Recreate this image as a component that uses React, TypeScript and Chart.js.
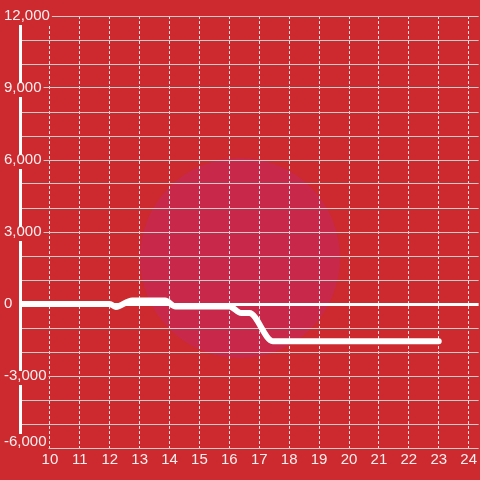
import React, { useEffect, useRef } from "react";
import { Chart, registerables } from "chart.js";

Chart.register(...registerables);

// Data (x = hour, y = value)
const hours = [9, 12, 12.2, 12.75, 13.85, 14.2, 16.0, 16.4, 16.67, 17.45, 23];
const values = [0, 0, -120, 150, 150, -100, -100, -380, -380, -1550, -1550];
const yLabelValues = [12000, 9000, 6000, 3000, 0, -3000, -6000];
const xLabelValues = [10, 11, 12, 13, 14, 15, 16, 17, 18, 19, 20, 21, 22, 23, 24];

const BG = "#cc2a2f";
const TEXT = "rgba(255,255,255,0.92)";
const Y_MIN = -6000;
const Y_MAX = 12000;

const bgPlugin = {
  id: "bgPlugin",
  beforeDraw(chart: any) {
    const ctx = chart.ctx;
    ctx.save();
    ctx.fillStyle = BG;
    ctx.fillRect(0, 0, chart.width, chart.height);
    ctx.beginPath();
    ctx.arc(240, 258, 100, 0, Math.PI * 2);
    ctx.fillStyle = "#c8294a";
    ctx.fill();
    ctx.restore();
  },
};

const fmt = (n: number) => n.toLocaleString("en-US");

export default function App() {
  const ref = useRef<HTMLCanvasElement | null>(null);

  useEffect(() => {
    document.body.style.margin = "0";
    Chart.defaults.font.family = "'Liberation Sans', Arial, sans-serif";
    const canvas = ref.current!;
    const isBottom = (c: any) => !!c.tick && c.tick.value === Y_MIN;
    const chart = new Chart(canvas, {
      type: "line",
      data: {
        datasets: [
          {
            data: hours.map((h, i) => ({ x: h, y: values[i] })),
            yAxisID: "y",
            borderColor: "#ffffff",
            borderWidth: 6,
            pointRadius: 0,
            cubicInterpolationMode: "monotone",
            borderCapStyle: "round",
            borderJoinStyle: "round",
            fill: false,
          },
        ],
      },
      options: {
        animation: false,
        responsive: false,
        maintainAspectRatio: false,
        layout: { padding: { left: 4, top: 16, right: 0, bottom: 0 } },
        plugins: {
          legend: { display: false },
          tooltip: { enabled: false },
        },
        scales: {
          x: {
            type: "linear",
            min: 9,
            max: 24.3334,
            afterFit: (s: any) => {
              s.height = 32;
            },
            grid: {
              drawTicks: false,
              color: "rgba(255,255,255,0.85)",
              lineWidth: 1,
            },
            border: { display: false, dash: [3, 2] },
            ticks: {
              z: 2,
              stepSize: 1,
              includeBounds: false,
              autoSkip: false,
              maxRotation: 0,
              padding: 3,
              color: TEXT,
              font: { size: 15 },
              callback: (v: any) =>
                xLabelValues.includes(Number(v)) ? String(v) : "",
            },
          },
          y: {
            type: "linear",
            position: "left",
            weight: 0,
            min: Y_MIN,
            max: Y_MAX,
            afterFit: (s: any) => {
              s.width = 16;
            },
            grid: {
              drawTicks: false,
              color: (c: any) => (c.tick && c.tick.value === 0 ? "#ffffff" : "#cccccc"),
              lineWidth: (c: any) => (c.tick && c.tick.value === 0 ? 3 : 1),
            },
            border: { display: true, color: "#ffffff", width: 3 },
            ticks: {
              stepSize: 1000,
              autoSkip: false,
              mirror: true,
              padding: -16,
              color: (c: any) => (isBottom(c) ? "rgba(0,0,0,0)" : TEXT),
              font: (c: any) =>
                isBottom(c) ? { size: 15, lineHeight: 2.4 } : { size: 15 },
              callback: (v: any) => {
                const n = Number(v);
                if (!yLabelValues.includes(n)) return "";
                return fmt(n);
              },
              showLabelBackdrop: (c: any) =>
                !!c.tick && yLabelValues.includes(c.tick.value),
              backdropColor: BG,
              backdropPadding: { left: 2, right: 2, top: -4, bottom: 0 },
            },
          },
          y2: {
            type: "linear",
            position: "left",
            weight: 1,
            min: Y_MIN,
            max: Y_MAX,
            afterFit: (s: any) => {
              s.width = 0;
            },
            grid: { display: false, drawTicks: false },
            border: { display: false },
            ticks: {
              z: 1,
              stepSize: 1000,
              autoSkip: false,
              mirror: true,
              padding: 0,
              color: TEXT,
              font: (c: any) =>
                isBottom(c) ? { size: 15, lineHeight: 0.8 } : { size: 15 },
              callback: (v: any) => {
                const n = Number(v);
                return n === Y_MIN ? [fmt(n), ""] : "";
              },
            },
          },
        },
      },
      plugins: [bgPlugin],
    } as any);
    return () => chart.destroy();
  }, []);

  return (
    <canvas
      ref={ref}
      width={480}
      height={480}
      style={{ display: "block", width: 480, height: 480 }}
    />
  );
}
